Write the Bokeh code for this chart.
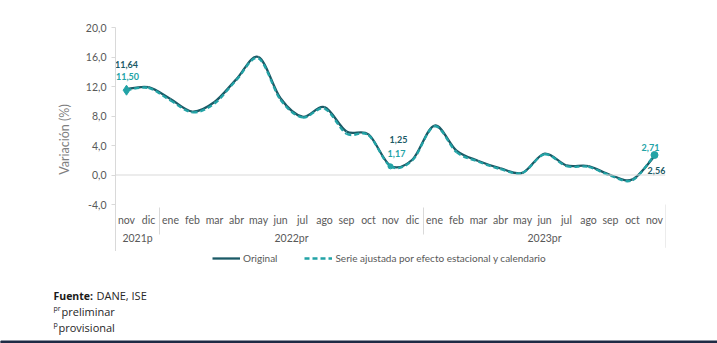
from bokeh.plotting import figure
from bokeh.models import (FactorRange, Range1d, FixedTicker, CustomJSTickFormatter,
                          Span, Legend, LegendItem)
from bokeh.layouts import column
from bokeh.core.properties import value
from bokeh.embed import file_html
from bokeh.resources import INLINE

# ---- data ----
years = ["2021p"] * 2 + ["2022pr"] * 12 + ["2023pr"] * 11
months = ["nov", "dic",
          "ene", "feb", "mar", "abr", "may", "jun", "jul", "ago", "sep", "oct", "nov", "dic",
          "ene", "feb", "mar", "abr", "may", "jun", "jul", "ago", "sep", "oct", "nov"]
original = [11.64, 11.90, 10.30, 8.60, 9.90, 13.00, 16.00, 10.40, 7.90, 9.20, 5.90, 5.50, 1.25,
            2.10, 6.70, 3.30, 1.90, 0.90, 0.30, 2.90, 1.30, 1.20, 0.00, -0.60, 2.56]
adjusted = [11.50, 11.80, 10.10, 8.50, 9.70, 12.90, 15.80, 10.20, 7.80, 9.00, 5.60, 5.40, 1.17,
            2.00, 6.60, 3.10, 1.80, 0.80, 0.30, 2.80, 1.20, 1.10, -0.10, -0.70, 2.71]
y_ticks = [-4, 0, 4, 8, 12, 16, 20]
label_idx = [0, 12, 24]
series_names = ["Original", "Serie ajustada por efecto estacional y calendario"]

DARK = "#1B5A66"
TEAL = "#22A3A6"
GREY_TXT = "#595959"
LINE_GREY = "#D9D9D9"
FONT = "Lato"

factors = list(zip(years, months))
n = len(factors)
xs = [i + 0.5 for i in range(n)]

# frame spans 27..251 px; -4 sits at 204 px (7.375 px per unit)
Y_BOTTOM = -4 - (251 - 204) / 7.375

p = figure(width=717, height=251,
           x_range=FactorRange(*factors, group_padding=0, factor_padding=0, subgroup_padding=0),
           y_range=Range1d(Y_BOTTOM, 20),
           output_backend="svg", toolbar_location=None,
           min_border_left=115, min_border_right=52, min_border_top=27, min_border_bottom=0)
p.outline_line_color = None
p.xgrid.visible = False
p.ygrid.visible = False

# y axis
ya = p.yaxis[0]
ya.ticker = FixedTicker(ticks=y_ticks)
ya.formatter = CustomJSTickFormatter(code="return tick.toFixed(1).replace('.', ',');")
ya.axis_line_color = LINE_GREY
ya.major_tick_line_color = LINE_GREY
ya.major_tick_out = 4
ya.major_tick_in = 0
ya.minor_tick_line_color = None
ya.major_label_text_font = FONT
ya.major_label_text_font_size = "10.5px"
ya.major_label_text_color = GREY_TXT
ya.major_label_standoff = 5
ya.axis_label = "Variación (%)"
ya.axis_label_text_font = FONT
ya.axis_label_text_font_size = "12.5px"
ya.axis_label_text_font_style = "normal"
ya.axis_label_text_color = "#7F7F7F"
ya.axis_label_standoff = 11

# x axis, drawn at -4 inside the frame
xa = p.xaxis[0]
xa.fixed_location = -4
xa.axis_line_color = None
xa.major_tick_line_color = None
xa.minor_tick_line_color = None
xa.major_label_text_font = FONT
xa.major_label_text_font_size = "10.5px"
xa.major_label_text_color = GREY_TXT
xa.major_label_standoff = 3
xa.group_text_font = FONT
xa.group_text_font_size = "10.5px"
xa.group_text_font_style = "normal"
xa.group_text_color = GREY_TXT
xa.separator_line_color = LINE_GREY
xa.separator_line_width = 1

# right closing line of the category area
p.segment(x0=[n], y0=[-4], x1=[n], y1=[Y_BOTTOM + 0.5], line_color=LINE_GREY, line_width=1)

p.add_layout(Span(location=0, dimension="width", line_color=LINE_GREY, line_width=1))


def bez(vals):
    x0, y0, x1, y1, c0x, c0y, c1x, c1y = [], [], [], [], [], [], [], []
    for i in range(n - 1):
        pa = i - 1 if i > 0 else i
        pd = i + 2 if i + 2 < n else i + 1
        x0.append(xs[i]); y0.append(vals[i])
        x1.append(xs[i + 1]); y1.append(vals[i + 1])
        c0x.append(xs[i] + (xs[i + 1] - xs[pa]) / 6.0)
        c0y.append(vals[i] + (vals[i + 1] - vals[pa]) / 6.0)
        c1x.append(xs[i + 1] - (xs[pd] - xs[i]) / 6.0)
        c1y.append(vals[i + 1] - (vals[pd] - vals[i]) / 6.0)
    return dict(x0=x0, y0=y0, x1=x1, y1=y1, cx0=c0x, cy0=c0y, cx1=c1x, cy1=c1y)


p.bezier(**bez(original), line_color=DARK, line_width=2.3)
p.bezier(**bez(adjusted), line_color=TEAL, line_width=2.3, line_dash="5 3")

# markers
p.scatter([xs[0]], [adjusted[0]], marker="diamond", size=10, color=TEAL)
p.scatter([xs[12]], [adjusted[12]], marker="circle", size=5, color=TEAL)
p.scatter([xs[24]], [adjusted[24]], marker="circle", size=7, color=TEAL)


def fmt(v):
    return f"{v:.2f}".replace(".", ",")


orig_off = [(0, -25), (8, -26), (2, 14)]
adj_off = [(1, -14), (6, -13), (-4, -8)]
for k, i in enumerate(label_idx):
    p.text([xs[i]], [original[i]], text=[fmt(original[i])], x_offset=orig_off[k][0], y_offset=orig_off[k][1],
           text_align="center", text_baseline="middle", text_font=value(FONT), text_font_size="9px",
           text_font_style="bold", text_color=DARK)
    p.text([xs[i]], [adjusted[i]], text=[fmt(adjusted[i])], x_offset=adj_off[k][0], y_offset=adj_off[k][1],
           text_align="center", text_baseline="middle", text_font=value(FONT), text_font_size="9px",
           text_font_style="bold", text_color=TEAL)

# ---- lower strip: legend + source notes (y measured in page pixels from the top) ----
q = figure(width=717, height=92, x_range=Range1d(0, 717), y_range=Range1d(343, 251),
           output_backend="svg", toolbar_location=None,
           min_border_left=0, min_border_right=0, min_border_top=0, min_border_bottom=0)
q.axis.visible = False
q.grid.visible = False
q.outline_line_color = None
for fig in (p, q):
    if "frame_align" in fig.properties():
        fig.frame_align = False

l1 = q.line([-50, -40], [-50, -50], line_color=DARK, line_width=2.3)
l2 = q.line([-50, -40], [-50, -50], line_color=TEAL, line_width=2.3, line_dash="5 3")
legend = Legend(items=[LegendItem(label=series_names[0], renderers=[l1]),
                       LegendItem(label=series_names[1], renderers=[l2])],
                orientation="horizontal", location=(212, 79))
legend.label_text_font = FONT
legend.label_text_font_size = "10px"
legend.label_text_color = GREY_TXT
legend.glyph_width = 28
legend.glyph_height = 12
legend.label_height = 12
legend.label_standoff = 3
legend.spacing = 27
legend.padding = 0
legend.margin = 0
legend.border_line_color = None
legend.background_fill_alpha = 0
q.add_layout(legend, "center")

FOOT = value("Open Sans")
q.text([53], [295], text=["Fuente:"], text_font=FOOT, text_font_size="10.5px", text_font_style="bold",
       text_color="#1A1A1A", text_baseline="middle")
q.text([96], [295], text=["DANE, ISE"], text_font=FOOT, text_font_size="11px",
       text_color="#262626", text_baseline="middle")
q.text([53], [308], text=["pr"], text_font=FOOT, text_font_size="7px",
       text_color="#262626", text_baseline="middle")
q.text([61], [311], text=["preliminar"], text_font=FOOT, text_font_size="11px",
       text_color="#262626", text_baseline="middle")
q.text([53], [324], text=["p"], text_font=FOOT, text_font_size="7px",
       text_color="#262626", text_baseline="middle")
q.text([58], [327], text=["provisional"], text_font=FOOT, text_font_size="11px",
       text_color="#262626", text_baseline="middle")
q.quad(left=[0], right=[717], top=[340.5], bottom=[343], color="#1F2B45")

layout = column(p, q, spacing=0)
open("out.html", "w").write(file_html(layout, INLINE))
